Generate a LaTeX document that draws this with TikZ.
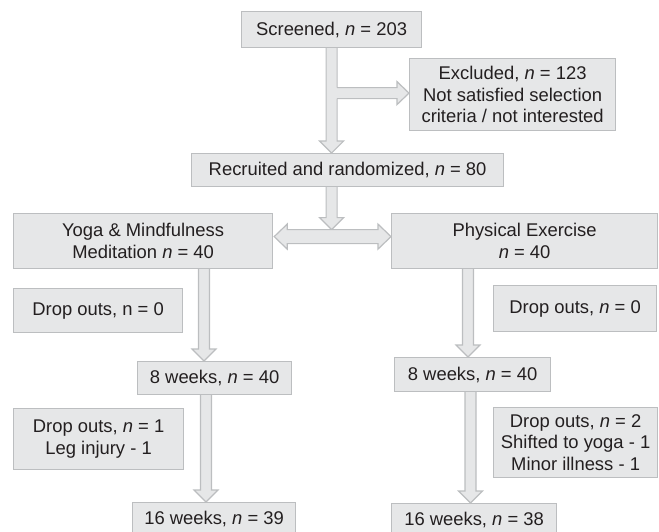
\documentclass[tikz,border=0pt]{standalone}
\usepackage{fontspec}
\setmainfont{Liberation Sans}
\usepackage{xcolor}
\usetikzlibrary{calc}
\definecolor{cFill}{HTML}{E6E7E8}
\definecolor{cLine}{HTML}{BCBEC0}
\definecolor{cInk}{HTML}{231F20}

% block arrows: start point, tip
\newcommand{\downblock}[2]{%
  \draw[blk] let \p1=#1, \p2=#2 in
    (\x1-5.5pt,\y1) -- (\x1-5.5pt,\y2+12pt) -- (\x1-12pt,\y2+12pt) -- (\x1,\y2)
    -- (\x1+12pt,\y2+12pt) -- (\x1+5.5pt,\y2+12pt) -- (\x1+5.5pt,\y1);}
\newcommand{\sideblock}[2]{%
  \fill[cFill] let \p1=#1, \p2=#2 in
    (\x1,\y1+5.5pt) -- (\x2-12pt,\y1+5.5pt) -- (\x2-12pt,\y1+11.5pt) -- (\x2,\y1)
    -- (\x2-12pt,\y1-11.5pt) -- (\x2-12pt,\y1-5.5pt) -- (\x1,\y1-5.5pt) -- cycle;
  \draw[blkline] let \p1=#1, \p2=#2 in
    (\x1+5.5pt,\y1+5.5pt) -- (\x2-12pt,\y1+5.5pt) -- (\x2-12pt,\y1+11.5pt) -- (\x2,\y1)
    -- (\x2-12pt,\y1-11.5pt) -- (\x2-12pt,\y1-5.5pt) -- (\x1+5.5pt,\y1-5.5pt);}
\newcommand{\twinblock}[2]{%
  \draw[blk] let \p1=#1, \p2=#2 in
    (\x1,\y1) -- (\x1+13pt,\y1+12.5pt) -- (\x1+13pt,\y1+7pt) -- (\x2-13pt,\y1+7pt)
    -- (\x2-13pt,\y1+12.5pt) -- (\x2,\y1) -- (\x2-13pt,\y1-12.5pt) -- (\x2-13pt,\y1-7pt)
    -- (\x1+13pt,\y1-7pt) -- (\x1+13pt,\y1-12.5pt) -- cycle;}

\begin{document}
\begin{tikzpicture}[x=1pt,y=-1pt,
  box/.style={rectangle, draw=cLine, fill=cFill, line width=1.2pt, align=center,
     inner sep=0pt, text=cInk, anchor=north west,
     font=\fontsize{18.4}{21.5}\selectfont},
  blkline/.style={draw=cLine, line width=1.2pt, line join=miter},
  blk/.style={blkline, fill=cFill},
]
\useasboundingbox (0,0) rectangle (659,531);

% =================== ENROLMENT ===================
\node[box, minimum width=180pt, minimum height=36pt] (scr) at (241,11)
 {Screened, \textit{n} = 203};
\node[box, minimum width=206pt, minimum height=72pt] (exc) at (409,58)
 {Excluded, \textit{n} = 123\\Not satisfied selection\\criteria / not interested};
\node[box, minimum width=312pt, minimum height=33pt] (rec) at (191,153)
 {Recruited and randomized, \textit{n} = 80};

\downblock{(scr.south)}{(scr.south |- rec.north)}
\sideblock{($(scr.south |- exc.west)+(0,-1.5)$)}{($(exc.west)+(0,-1.5)$)}

% =================== ALLOCATION ===================
\node[box, minimum width=259pt, minimum height=55pt] (yoga) at (13,213)
 {Yoga \& Mindfulness\\Meditation \textit{n} = 40};
\node[box, minimum width=266pt, minimum height=55pt] (phys) at (391,213)
 {Physical Exercise\\\textit{n} = 40};

\coordinate (split) at ($(scr.south |- yoga.east)+(0,-11.5)$);
\downblock{(scr.south |- rec.south)}{(split)}
\twinblock{($(yoga.east)+(1,-4.5)$)}{($(phys.west)+(0,-4.5)$)}

% =================== FOLLOW-UP, YOGA ===================
\node[box, minimum width=169pt, minimum height=44pt] (dl0) at (13,288)
 {Drop outs, n = 0};
\node[box, minimum width=154pt, minimum height=33pt] (wl8) at (137,361)
 {8 weeks, \textit{n} = 40};
\node[box, minimum width=170pt, minimum height=61pt] (dl1) at (13,408)
 {Drop outs, \textit{n} = 1\\Leg injury - 1};
\node[box, minimum width=163pt, minimum height=32pt] (wl16) at (132,502)
 {16 weeks, \textit{n} = 39};

\coordinate (yl1) at ($(wl8.north west)+(67,0)$);
\coordinate (yl2) at ($(wl16.north west)+(74,0)$);
\downblock{(yoga.south -| yl1)}{(yl1)}
\downblock{(wl8.south -| yl2)}{(yl2)}

% =================== FOLLOW-UP, EXERCISE ===================
\node[box, minimum width=163pt, minimum height=46pt] (dr0) at (493,285)
 {Drop outs, \textit{n} = 0};
\node[box, minimum width=156pt, minimum height=34pt] (wr8) at (394,357)
 {8 weeks, \textit{n} = 40};
\node[box, minimum width=164pt, minimum height=70pt] (dr2) at (493,407)
 {Drop outs, \textit{n} = 2\\Shifted to yoga - 1\\Minor illness - 1};
\node[box, minimum width=165pt, minimum height=32pt] (wr16) at (391,503)
 {16 weeks, \textit{n} = 38};

\coordinate (pl1) at ($(wr8.north west)+(74,0)$);
\coordinate (pl2) at ($(wr16.north west)+(79.5,0)$);
\downblock{(phys.south -| pl1)}{(pl1)}
\downblock{(wr8.south -| pl2)}{(pl2)}

\end{tikzpicture}
\end{document}
